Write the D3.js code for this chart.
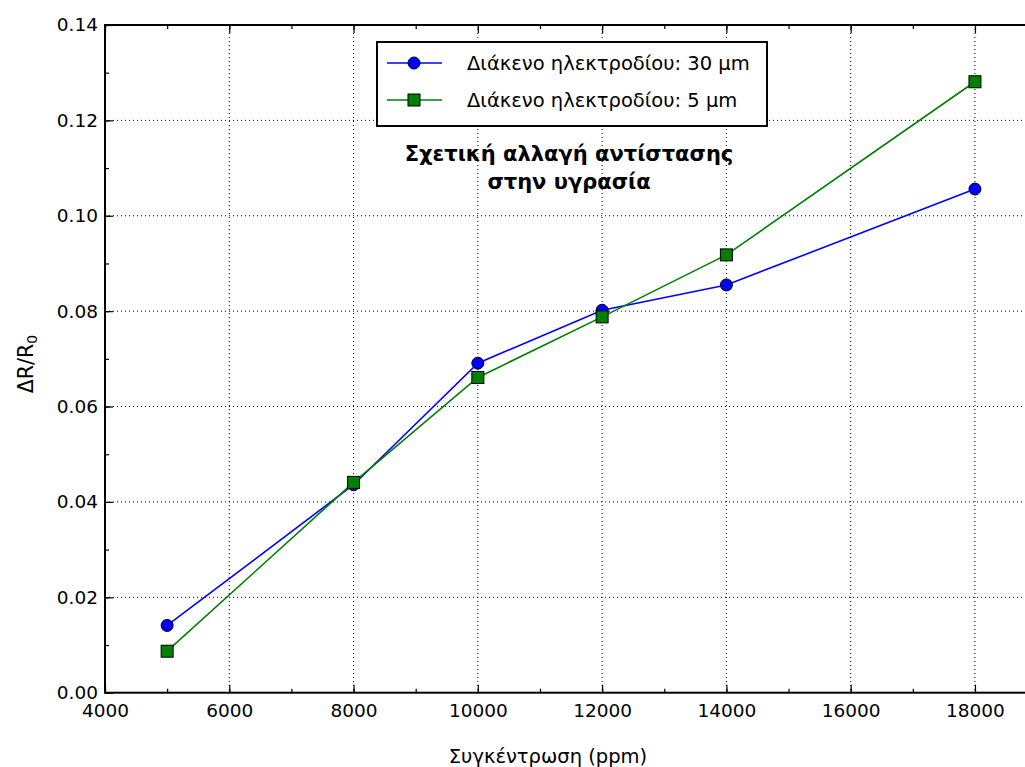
<!DOCTYPE html>
<html><head><meta charset="utf-8">
<script src="https://cdn.jsdelivr.net/npm/d3@7"></script>
<style>body{margin:0;background:#fff;overflow:hidden}svg{display:block}text{font-family:"DejaVu Sans",sans-serif}</style>
</head><body><svg id="c" width="1025" height="767"></svg>
<script>
const concentrations = [5000, 8000, 10000, 12000, 14000, 18000];
const gap30 = [0.0141, 0.0436, 0.0691, 0.0802, 0.0855, 0.1056];
const gap5 = [0.0087, 0.0441, 0.0661, 0.0788, 0.0918, 0.1281];
const seriesNames = ["Διάκενο ηλεκτροδίου: 30 μm", "Διάκενο ηλεκτροδίου: 5 μm"];
const xTicks = [4000, 6000, 8000, 10000, 12000, 14000, 16000, 18000, 20000];
const yTicks = [0.00, 0.02, 0.04, 0.06, 0.08, 0.10, 0.12, 0.14];
const titleLines = ["Σχετική αλλαγή αντίστασης", "στην υγρασία"];

const svg = d3.select("#c");
const L = 105, T = 25, B = 692.7;
const x = d3.scaleLinear().domain([4000, 20000]).range([L, L + 16 * 62.14]);
const y = d3.scaleLinear().domain([0, 0.14]).range([B, T]);
const R = x(20000);

// grid
const g = svg.append("g");
g.selectAll(".gx").data(xTicks.slice(1, -1)).join("line")
  .attr("x1", d => x(d)).attr("x2", d => x(d)).attr("y1", T).attr("y2", B)
  .attr("stroke", "#000").attr("stroke-width", 1).attr("stroke-dasharray", "1,3");
g.selectAll(".gy").data(yTicks.slice(1, -1)).join("line")
  .attr("x1", L).attr("x2", R).attr("y1", d => y(d)).attr("y2", d => y(d))
  .attr("stroke", "#000").attr("stroke-width", 1).attr("stroke-dasharray", "1,3");

// axes with inward ticks
const fmtY = d3.format(".2f");
const fmtX = d => (x(d) + 30 > 1025 ? "" : d3.format("d")(d));
const minorX = d3.range(4000, 20001, 1000);
const minorY = d3.range(0, 0.1401, 0.01);
function styleAxis(sel) {
  sel.select(".domain").remove();
  sel.selectAll("line").attr("stroke", "#000").attr("stroke-width", 1.2);
  sel.selectAll("text").attr("font-size", 18.5).attr("fill", "#000")
    .attr("font-family", "DejaVu Sans, sans-serif");
}
svg.append("g").attr("transform", `translate(0,${B})`)
  .call(d3.axisBottom(x).tickValues(minorX).tickSize(-4).tickFormat(""))
  .call(styleAxis);
svg.append("g").attr("transform", `translate(0,${B})`)
  .call(d3.axisBottom(x).tickValues(xTicks).tickSize(-8).tickPadding(11).tickFormat(fmtX))
  .call(styleAxis);
svg.append("g").attr("transform", `translate(0,${T})`)
  .call(d3.axisTop(x).tickValues(minorX).tickSize(-4).tickFormat(""))
  .call(styleAxis);
svg.append("g").attr("transform", `translate(0,${T})`)
  .call(d3.axisTop(x).tickValues(xTicks).tickSize(-8).tickFormat(""))
  .call(styleAxis);
svg.append("g").attr("transform", `translate(${L},0)`)
  .call(d3.axisLeft(y).tickValues(minorY).tickSize(-4).tickFormat(""))
  .call(styleAxis);
svg.append("g").attr("transform", `translate(${L},0)`)
  .call(d3.axisLeft(y).tickValues(yTicks).tickSize(-8).tickPadding(7).tickFormat(fmtY))
  .call(styleAxis);

// spines
svg.append("rect").attr("x", L).attr("y", T).attr("width", R - L).attr("height", B - T)
  .attr("fill", "none").attr("stroke", "#000").attr("stroke-width", 2);

// series
const line = d3.line();
const s1 = concentrations.map((c, i) => [x(c), y(gap30[i])]);
const s2 = concentrations.map((c, i) => [x(c), y(gap5[i])]);
svg.append("path").attr("d", line(s1)).attr("fill", "none").attr("stroke", "#0000ff").attr("stroke-width", 1.6);
svg.append("g").selectAll("circle").data(s1).join("circle")
  .attr("cx", d => d[0]).attr("cy", d => d[1]).attr("r", 6)
  .attr("fill", "#0000ff").attr("stroke", "#000").attr("stroke-width", 1);
svg.append("path").attr("d", line(s2)).attr("fill", "none").attr("stroke", "#008000").attr("stroke-width", 1.6);
svg.append("g").selectAll("rect").data(s2).join("rect")
  .attr("x", d => d[0] - 6).attr("y", d => d[1] - 6).attr("width", 12).attr("height", 12)
  .attr("fill", "#008000").attr("stroke", "#000").attr("stroke-width", 1);

// legend
const lg = svg.append("g");
lg.append("rect").attr("x", 377).attr("y", 42).attr("width", 390).attr("height", 84)
  .attr("fill", "#fff").attr("stroke", "#000").attr("stroke-width", 2);
const rows = [63, 100];
lg.append("line").attr("x1", 387).attr("x2", 442).attr("y1", rows[0]).attr("y2", rows[0]).attr("stroke", "#0000ff").attr("stroke-width", 1.6);
lg.append("circle").attr("cx", 414).attr("cy", rows[0]).attr("r", 6).attr("fill", "#0000ff").attr("stroke", "#000");
lg.append("line").attr("x1", 387).attr("x2", 442).attr("y1", rows[1]).attr("y2", rows[1]).attr("stroke", "#008000").attr("stroke-width", 1.6);
lg.append("rect").attr("x", 408).attr("y", rows[1] - 6).attr("width", 12).attr("height", 12).attr("fill", "#008000").attr("stroke", "#000");
seriesNames.forEach((n, i) => {
  lg.append("text").attr("x", 467).attr("y", rows[i] + 7).attr("font-size", 19.5).text(n);
});

// title
titleLines.forEach((t, i) => {
  svg.append("text").attr("x", 569).attr("y", 161 + i * 28).attr("text-anchor", "middle")
    .attr("font-size", 21).attr("font-weight", "bold").text(t);
});

// axis labels
svg.append("text").attr("x", 548).attr("y", 763).attr("text-anchor", "middle").attr("font-size", 19.5)
  .text("Συγκέντρωση (ppm)");
const yl = svg.append("text").attr("transform", "translate(33,364) rotate(-90)").attr("text-anchor", "middle").attr("font-size", 20.5);
yl.append("tspan").text("ΔR/R");
yl.append("tspan").attr("font-size", 14).attr("dy", 4).text("0");
</script></body></html>
